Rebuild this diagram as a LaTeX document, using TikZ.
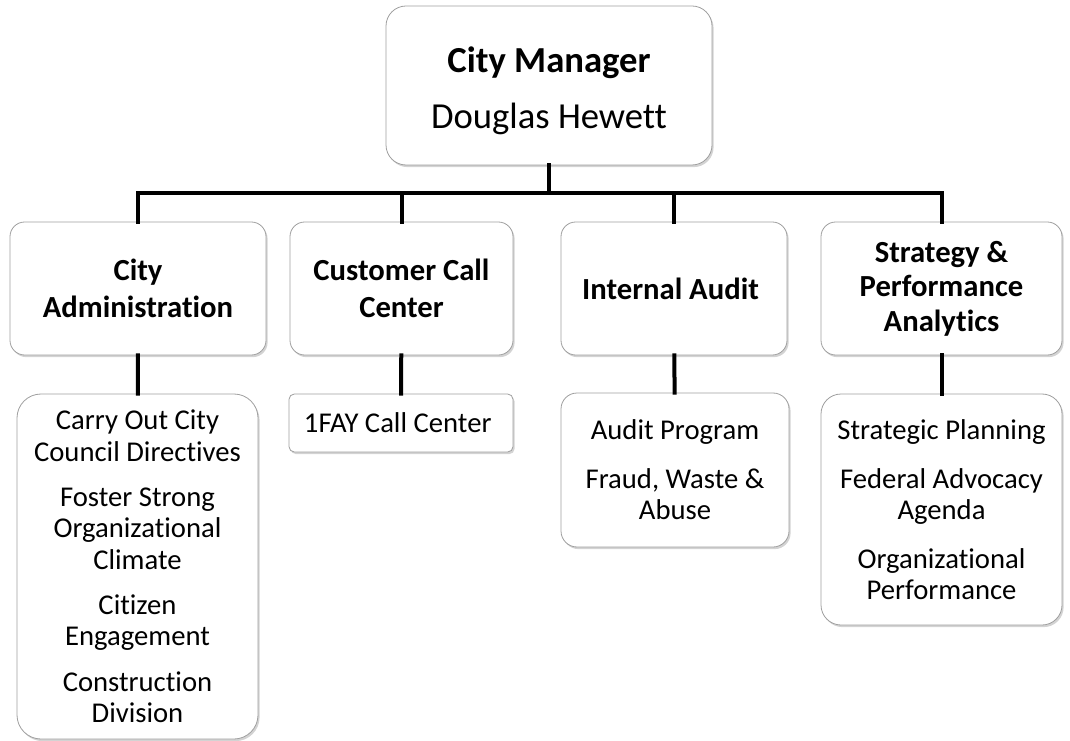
\documentclass[tikz,border=0pt]{standalone}
\usepackage{fontspec}
\setmainfont{Carlito}[Ligatures=NoCommon]
\usetikzlibrary{shadows}

\tikzset{
  box/.style={draw=gray!75, line width=0.6pt, fill=white, rounded corners=#1,
    align=center, inner sep=0pt,
    drop shadow={shadow xshift=1.2pt, shadow yshift=-1.6pt, opacity=0.35}},
  box/.default=11pt,
  head/.style={font=\fontsize{23}{28}\selectfont\bfseries},
  item/.style={font=\fontsize{21.5}{23.5}\selectfont},
  link/.style={line width=3pt, line cap=rect}
}

\begin{document}
\begin{tikzpicture}[x=0.75pt, y=-0.75pt]

    \useasboundingbox (0,0) rectangle (1070,741);

    \node[box=15pt, minimum width=244.5pt, minimum height=119.25pt,
          font=\fontsize{27.5}{33}\selectfont] (manager) at (549, 85.5)
    { \rule{0pt}{27pt}\textbf{City Manager} \\[9pt]
      Douglas Hewett };

    % bus under the manager
    \coordinate (bus) at (549, 193);

    \node[box, head, minimum width=192pt, minimum height=99.75pt] (admin) at (138, 288.5)
    { City \\ Administration };

    \node[box, head, minimum width=167.25pt, minimum height=99.75pt] (callcenter) at (401.5, 288.5)
    { Customer Call \\ Center };

    \node[box, head, minimum width=169.5pt, minimum height=99.75pt] (audit) at (674, 288.5)
    { Internal Audit };

    \node[box, head, minimum width=180.75pt, minimum height=99.75pt] (strategy) at (941.5, 288.5)
    { Strategy \& \\[-2pt] Performance \\[-2pt] Analytics };

    \node[box=18pt, item, minimum width=180.75pt, minimum height=258.75pt] (adminSub) at (137.5, 566.5)
    { Carry Out City \\ Council Directives \\[10.5pt]
      Foster Strong \\ Organizational \\ Climate \\[10.5pt]
      Citizen \\ Engagement \\[10.5pt]
      Construction \\ Division };

    \node[box=4pt, item, minimum width=168pt, minimum height=43.5pt] (callSub) at (401, 423)
    { 1FAY Call Center };

    \node[box=12pt, item, minimum width=171pt, minimum height=115.5pt] (auditSub) at (675, 470)
    { Audit Program \\[13pt]
      Fraud, Waste \& \\ Abuse };

    \node[box=15pt, item, minimum width=180.75pt, minimum height=173.25pt] (strategySub) at (941.5, 509.5)
    { Strategic Planning \\[13pt]
      Federal Advocacy \\ Agenda \\[13pt]
      Organizational \\ Performance };

    \draw[link] (manager.south) -- (bus);
    \draw[link]
      (bus) -| (admin.north)
      (bus) -| (callcenter.north)
      (bus) -| (audit.north)
      (bus) -| (strategy.north);

    \draw[link]
      (admin) edge (adminSub)
      (callcenter) edge (callSub)
      (audit) edge (auditSub)
      (strategy) edge (strategySub);
  \end{tikzpicture}
\end{document}
